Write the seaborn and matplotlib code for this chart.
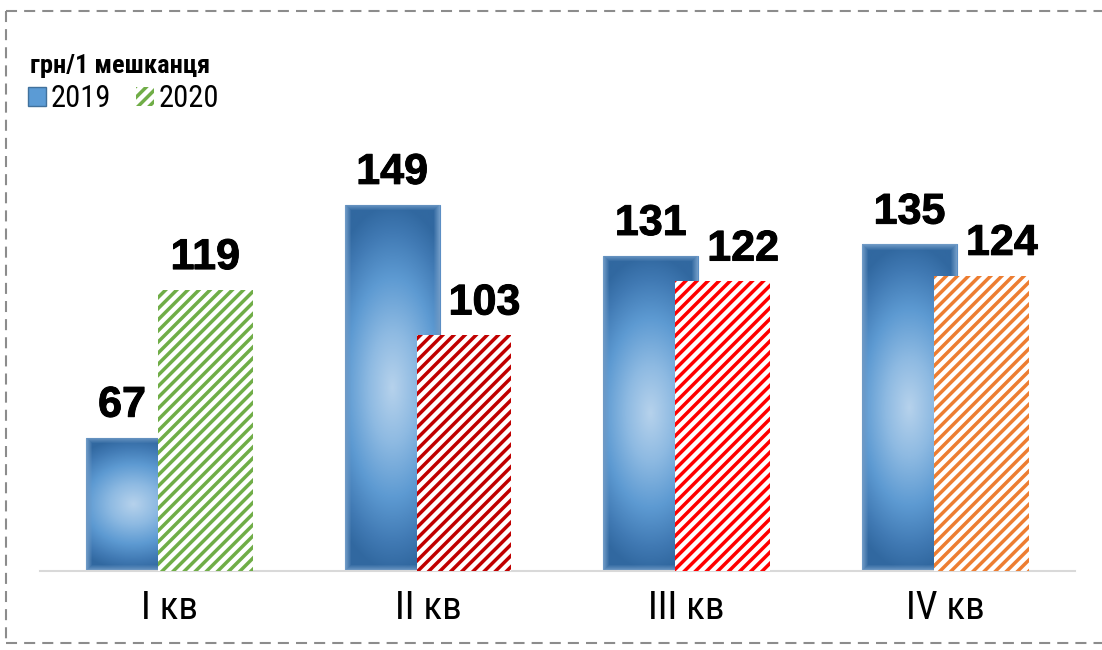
import numpy as np
import pandas as pd
import seaborn as sns
import matplotlib.pyplot as plt
import matplotlib.patheffects as pe
from matplotlib.colors import LinearSegmentedColormap, to_rgb
from matplotlib.patches import Patch
from matplotlib.lines import Line2D

# Data
quarters = ['I кв', 'II кв', 'III кв', 'IV кв']
years = ['2019', '2020']
values_2019 = [67, 149, 131, 135]
values_2020 = [119, 103, 122, 124]

df = pd.DataFrame({
    'quarter': quarters * 2,
    'year': [years[0]] * 4 + [years[1]] * 4,
    'value': values_2019 + values_2020,
})

hatch_colors = ['#70ad47', '#c00000', '#ff0000', '#ed7d31']
narrow = ['Roboto Condensed', 'Liberation Sans Narrow', 'DejaVu Sans']
bold = ['Liberation Sans', 'DejaVu Sans']

sns.set_style('white')
plt.rcParams['hatch.linewidth'] = 2.5
plt.rcParams['text.color'] = 'black'

fig = plt.figure(figsize=(11.02, 6.5), dpi=100)
ax = fig.add_axes([0.0363, 0.1215, 0.939, 0.699])

sns.barplot(data=df, x='quarter', y='value', hue='year', order=quarters,
            hue_order=years, palette=['#5b9bd5', 'white'], saturation=1,
            errorbar=None, legend=False, ax=ax)

ymin, ymax = 20, 180
bar_w = 0.367
off = 0.139
ax.set_xlim(-0.5, 3.5)
ax.set_ylim(ymin, ymax)

# radial gradient like the excel fill
grad = LinearSegmentedColormap.from_list(
    'g', [(0, '#b6d2ec'), (0.3, '#8ebae2'), (0.6, '#5d9ad2'), (0.85, '#4079b3'), (1, '#3168a0')])
edge_rgb = np.array(to_rgb('#6f9ac6'))


def gradient(w_px, h_px):
    nx, ny = max(int(w_px), 2), max(int(h_px), 2)
    yy, xx = np.mgrid[-1:1:ny * 1j, -1:1:nx * 1j]
    r = np.clip(np.sqrt((0.6 * xx) ** 2 + yy ** 2), 0, 1)
    rgb = grad(r)[..., :3]
    d = np.minimum((1 - np.abs(xx)) * nx / 2, (1 - np.abs(yy)) * ny / 2)
    soft = np.clip(d / 6, 0, 1)[..., None]
    return edge_rgb * (1 - soft) + rgb * soft


px_x = 1035 / 4.0
px_y = 0.699 * 650 / (ymax - ymin)

bars19, bars20 = ax.containers[0], ax.containers[1]
labels = []
heavy = [pe.withStroke(linewidth=0.7, foreground='black')]
for i, (b1, b2) in enumerate(zip(bars19, bars20)):
    c = b1.get_x() + b1.get_width() / 2 + 0.2
    b1.set_x(c - off - bar_w / 2)
    b1.set_width(bar_w)
    b1.set_edgecolor('#5b8ec4')
    b1.set_linewidth(0.8)
    b1.set_zorder(2)
    b2.set_x(c + off - bar_w / 2)
    b2.set_width(bar_w)
    b2.set_facecolor('white')
    b2.set_edgecolor(hatch_colors[i])
    b2.set_hatch('///')
    b2.set_linewidth(0)
    b2.set_zorder(3)

    x0 = b1.get_x()
    h = b1.get_height()
    im = ax.imshow(gradient(bar_w * px_x, (h - ymin) * px_y),
                   extent=[x0, x0 + bar_w, ymin, h],
                   origin='lower', aspect='auto', zorder=2.5)
    im.set_clip_path(b1)

    for b, v, other, side in [(b1, values_2019[i], b2, -1), (b2, values_2020[i], b1, 1)]:
        t = ax.annotate(str(v), (b.get_x() + bar_w / 2, v), xytext=(0, 15),
                        textcoords='offset points', ha='center', va='baseline',
                        fontsize=31, fontweight='bold', family=bold,
                        color='black', zorder=5, path_effects=heavy)
        labels.append((t, b, other, side))

# nudge labels sideways when the neighbouring bar is taller (like excel does)
fig.canvas.draw()
r = fig.canvas.get_renderer()
for t, b, other, side in labels:
    if other.get_height() <= b.get_height():
        continue
    bb = t.get_window_extent(r)
    if side > 0:
        edge = ax.transData.transform((other.get_x() + bar_w, 0))[0]
        shift = max(0, edge + 9 - bb.x0)
    else:
        edge = ax.transData.transform((other.get_x(), 0))[0]
        shift = min(0, edge - 12 - bb.x1)
    t.xyann = (shift * 72 / fig.dpi, 15)

ax.set_yticks([])
ax.set_xticks(range(len(quarters)))
ax.set_xticklabels(quarters, family=narrow, fontsize=28, color='black')
ax.tick_params(axis='x', length=0, pad=14)
ax.set_xlabel('')
ax.set_ylabel('')
for s in ['left', 'top', 'right']:
    ax.spines[s].set_visible(False)
ax.spines['bottom'].set_color('#d9d9d9')
ax.spines['bottom'].set_linewidth(1.5)

# title and legend
fig.text(30 / 1102, 1 - 73 / 650, 'грн/1 мешканця', family=narrow,
         fontweight='bold', fontsize=19, va='baseline', color='black')
handles = [Patch(facecolor='#5b9bd5', edgecolor='#41719c', label='2019'),
           Patch(facecolor='white', edgecolor='#70ad47', hatch='///', lw=0, label='2020')]
leg = fig.legend(handles=handles, loc='upper left', bbox_to_anchor=(28 / 1102, 1 - 84 / 650),
                 ncol=2, frameon=False, prop={'family': narrow, 'size': 22},
                 handlelength=0.6, handleheight=0.6, handletextpad=0.15,
                 columnspacing=0.8, borderpad=0, borderaxespad=0)
for t in leg.get_texts():
    t.set_color('black')

# dashed frame
dash = dict(color='#8c8c8c', lw=1.5, ls=(0, (5.3, 3.4)), transform=fig.transFigure)
fig.add_artist(Line2D([6 / 1102, 1], [1 - 11 / 650] * 2, **dash))
fig.add_artist(Line2D([6 / 1102] * 2, [1 - 11 / 650, 1 - 643 / 650], **dash))
fig.add_artist(Line2D([6 / 1102, 1], [1 - 643 / 650] * 2, **dash))

fig.savefig('out.png', dpi=100)
